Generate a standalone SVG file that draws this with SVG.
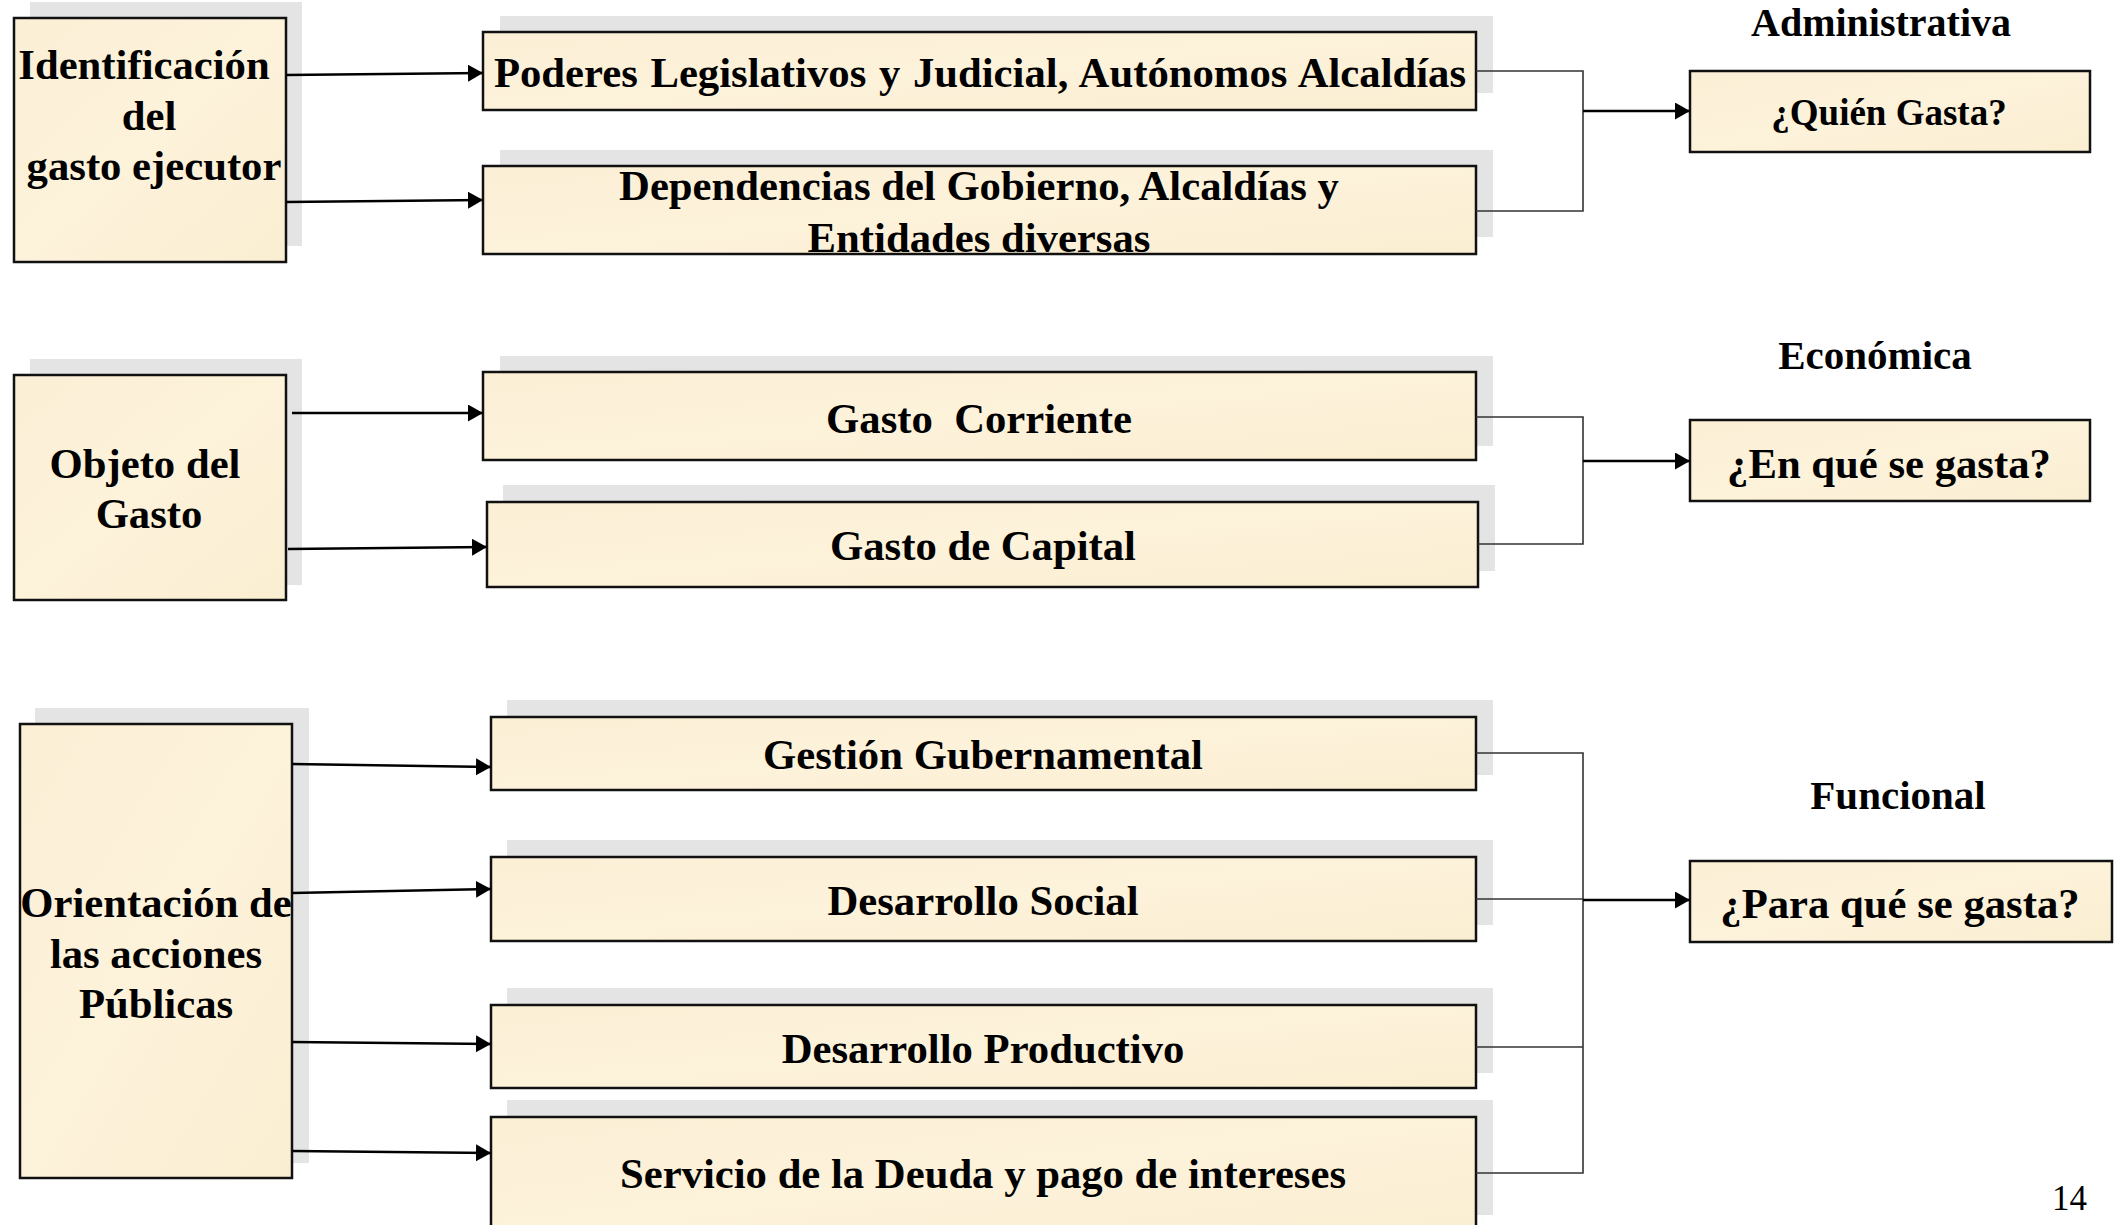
<svg xmlns="http://www.w3.org/2000/svg" width="2123" height="1225" viewBox="0 0 2123 1225">
<style>
.box{fill:url(#parch);stroke:#111;stroke-width:2.5}
.shadow{fill:#e4e4e4}
.t{font-family:"Liberation Serif","Times New Roman",serif;font-weight:bold;font-size:42.7px;fill:#000;text-anchor:middle}
.h{font-family:"Liberation Serif","Times New Roman",serif;font-weight:bold;font-size:41px;fill:#000;text-anchor:middle}
.arrow{fill:none;stroke:#000;stroke-width:2.5}
.link{fill:none;stroke:#333;stroke-width:1.6}
.pn{font-family:"Liberation Serif","Times New Roman",serif;font-size:35px;fill:#000}
</style>
<defs>
<linearGradient id="parch" x1="0" y1="0" x2="1" y2="1">
<stop offset="0" stop-color="#fbf0d6"/>
<stop offset="0.5" stop-color="#fdf2da"/>
<stop offset="1" stop-color="#faeed2"/>
</linearGradient>
<marker id="ah" markerWidth="16" markerHeight="18" refX="15" refY="8.5" orient="auto" markerUnits="userSpaceOnUse">
<path d="M0,0 L15,8.5 L0,17 z" fill="#000"/>
</marker>
</defs>
<rect width="2123" height="1225" fill="#fff"/>

<g id="n-identificacion">
<rect class="shadow" x="30" y="2" width="272" height="244"/>
<rect class="box" x="14" y="18" width="272" height="244"/>
<text class="t" x="144" y="79">Identificación</text>
<text class="t" x="149" y="130">del</text>
<text class="t" x="154" y="180">gasto ejecutor</text>
</g>
<g id="n-poderes">
<rect class="shadow" x="500" y="16" width="993" height="77"/>
<rect class="box" x="483" y="32" width="993" height="78"/>
<text class="t" x="980" y="87" word-spacing="2">Poderes Legislativos y Judicial, Autónomos Alcaldías</text>
</g>
<g id="n-dependencias">
<rect class="shadow" x="500" y="150" width="993" height="87"/>
<rect class="box" x="483" y="166" width="993" height="88"/>
<text class="t" x="979" y="200">Dependencias del Gobierno, Alcaldías y</text>
<text class="t" x="979" y="252">Entidades diversas</text>
</g>
<g id="n-quien">
<rect class="box" x="1690" y="71" width="400" height="81"/>
<text class="t" style="font-size:37px" x="1889" y="125">¿Quién Gasta?</text>
</g>
<text class="h" style="font-size:40px" x="1881" y="36">Administrativa</text>

<g id="n-objeto">
<rect class="shadow" x="30" y="359" width="272" height="226"/>
<rect class="box" x="14" y="375" width="272" height="225"/>
<text class="t" x="145" y="478">Objeto del</text>
<text class="t" x="149" y="528">Gasto</text>
</g>
<g id="n-corriente">
<rect class="shadow" x="500" y="356" width="993" height="90"/>
<rect class="box" x="483" y="372" width="993" height="88"/>
<text class="t" x="979" y="433" xml:space="preserve">Gasto  Corriente</text>
</g>
<g id="n-capital">
<rect class="shadow" x="503" y="485" width="992" height="86"/>
<rect class="box" x="487" y="502" width="991" height="85"/>
<text class="t" x="983" y="560">Gasto de Capital</text>
</g>
<g id="n-enque">
<rect class="box" x="1690" y="420" width="400" height="81"/>
<text class="t" x="1889" y="478">¿En qué se gasta?</text>
</g>
<text class="h" x="1875" y="369">Económica</text>

<g id="n-orientacion">
<rect class="shadow" x="35" y="708" width="274" height="455"/>
<rect class="box" x="20" y="724" width="272" height="454"/>
<text class="t" x="156" y="917">Orientación de</text>
<text class="t" x="156" y="968">las acciones</text>
<text class="t" x="156" y="1018">Públicas</text>
</g>
<g id="n-gestion">
<rect class="shadow" x="507" y="700" width="986" height="75"/>
<rect class="box" x="491" y="717" width="985" height="73"/>
<text class="t" x="983" y="769">Gestión Gubernamental</text>
</g>
<g id="n-social">
<rect class="shadow" x="507" y="840" width="986" height="85"/>
<rect class="box" x="491" y="857" width="985" height="84"/>
<text class="t" x="983" y="915">Desarrollo Social</text>
</g>
<g id="n-productivo">
<rect class="shadow" x="507" y="988" width="986" height="85"/>
<rect class="box" x="491" y="1005" width="985" height="83"/>
<text class="t" x="983" y="1063">Desarrollo Productivo</text>
</g>
<g id="n-servicio">
<rect class="shadow" x="507" y="1100" width="986" height="115"/>
<rect class="box" x="491" y="1117" width="985" height="120"/>
<text class="t" x="983" y="1188">Servicio de la Deuda y pago de intereses</text>
</g>
<g id="n-paraque">
<rect class="box" x="1690" y="861" width="422" height="81"/>
<text class="t" x="1900" y="918">¿Para qué se gasta?</text>
</g>
<text class="h" x="1898" y="809">Funcional</text>
<text class="pn" x="2052" y="1210">14</text>

<g id="connectors">
<line class="arrow" x1="286" y1="75" x2="483" y2="73" marker-end="url(#ah)"/>
<line class="arrow" x1="286" y1="202" x2="483" y2="200" marker-end="url(#ah)"/>
<line class="arrow" x1="292" y1="413" x2="483" y2="413" marker-end="url(#ah)"/>
<line class="arrow" x1="288" y1="549" x2="487" y2="547" marker-end="url(#ah)"/>
<line class="arrow" x1="292" y1="764" x2="491" y2="767" marker-end="url(#ah)"/>
<line class="arrow" x1="292" y1="893" x2="491" y2="889" marker-end="url(#ah)"/>
<line class="arrow" x1="292" y1="1042" x2="491" y2="1044" marker-end="url(#ah)"/>
<line class="arrow" x1="292" y1="1151" x2="491" y2="1153" marker-end="url(#ah)"/>
<polyline class="link" points="1476,71 1583,71 1583,211 1476,211"/>
<line class="arrow" x1="1583" y1="111" x2="1690" y2="111" marker-end="url(#ah)"/>
<polyline class="link" points="1476,417 1583,417 1583,544 1478,544"/>
<line class="arrow" x1="1583" y1="461" x2="1690" y2="461" marker-end="url(#ah)"/>
<polyline class="link" points="1476,753 1583,753 1583,1173 1476,1173"/>
<line class="link" x1="1476" y1="899" x2="1583" y2="899"/>
<line class="link" x1="1476" y1="1047" x2="1583" y2="1047"/>
<line class="arrow" x1="1583" y1="900" x2="1690" y2="900" marker-end="url(#ah)"/>
</g>
</svg>
